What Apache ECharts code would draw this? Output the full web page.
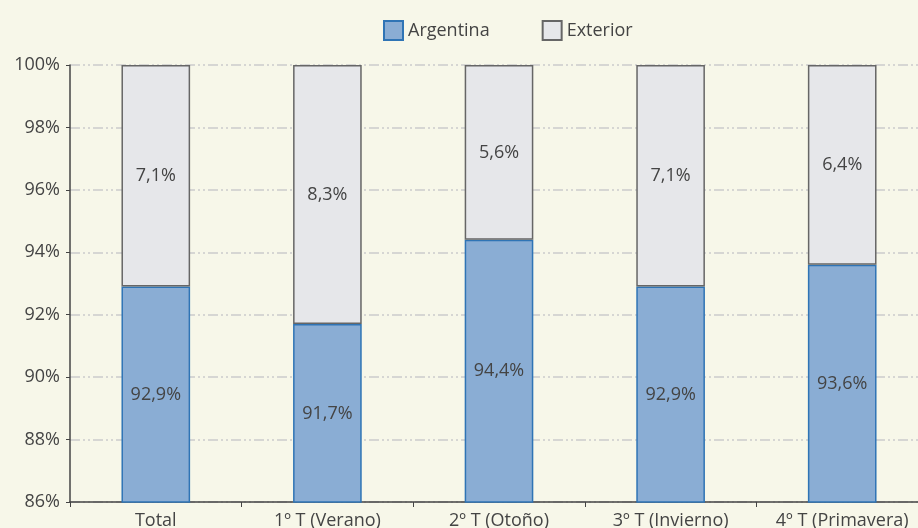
<!DOCTYPE html>
<html><head><meta charset="utf-8">
<script src="https://cdn.jsdelivr.net/npm/echarts@6/dist/echarts.min.js"></script>
<style>html,body{margin:0;padding:0;background:#f7f7e9;}#c{width:918px;height:528px;}</style>
</head><body><div id="c"></div>
<script>
const categories = ['Total', '1º T (Verano)', '2º T (Otoño)', '3º T (Invierno)', '4º T (Primavera)'];
const argentina = [92.9, 91.7, 94.4, 92.9, 93.6];
const exterior = [7.1, 8.3, 5.6, 7.1, 6.4];
const yTicks = { min: 86, max: 100, interval: 2 };

const font = 'Open Sans';
const fmt = v => v.toFixed(1).replace('.', ',') + '%';
const chart = echarts.init(document.getElementById('c'));
chart.setOption({
  backgroundColor: '#f7f7e9',
  animation: false,
  legend: {
    top: 15, left: 378, itemWidth: 19, itemHeight: 19, itemGap: 52, icon: 'rect',
    textStyle: { fontFamily: font, fontSize: 18, color: '#444' },
    data: ['Argentina', 'Exterior']
  },
  grid: { left: 70, right: -10, top: 65, bottom: 26, outerBoundsMode: 'none', containLabel: false },
  xAxis: {
    type: 'category', data: categories,
    axisLine: { lineStyle: { color: '#444', width: 1.5 } },
    axisTick: { show: true, length: 5, lineStyle: { color: '#444' } },
    axisLabel: { fontFamily: font, fontSize: 18, color: '#444', margin: 10, interval: 0 }
  },
  yAxis: {
    type: 'value', min: yTicks.min, max: yTicks.max, interval: yTicks.interval,
    axisLine: { show: true, lineStyle: { color: '#444', width: 1.5 } },
    axisTick: { show: true, length: 4, lineStyle: { color: '#444' } },
    axisLabel: { fontFamily: font, fontSize: 18, color: '#444', margin: 10, formatter: v => v + '%' },
    splitLine: { show: true, lineStyle: { color: '#cbcbcb', width: 1.5, type: [10, 3, 2, 3, 2, 3] } }
  },
  series: [
    {
      name: 'Argentina', type: 'bar', stack: 's', data: argentina, barWidth: '40%',
      itemStyle: { color: '#8aadd4', borderColor: '#2f74b5', borderWidth: 1.5 },
      label: { show: true, position: 'inside', fontFamily: font, fontSize: 18, color: '#444', formatter: p => fmt(p.value) }
    },
    {
      name: 'Exterior', type: 'bar', stack: 's', data: exterior, barWidth: '40%',
      itemStyle: { color: '#e6e7ea', borderColor: '#666', borderWidth: 1.5 },
      label: { show: true, position: 'inside', fontFamily: font, fontSize: 18, color: '#444', formatter: p => fmt(p.value) }
    }
  ]
});
</script></body></html>
